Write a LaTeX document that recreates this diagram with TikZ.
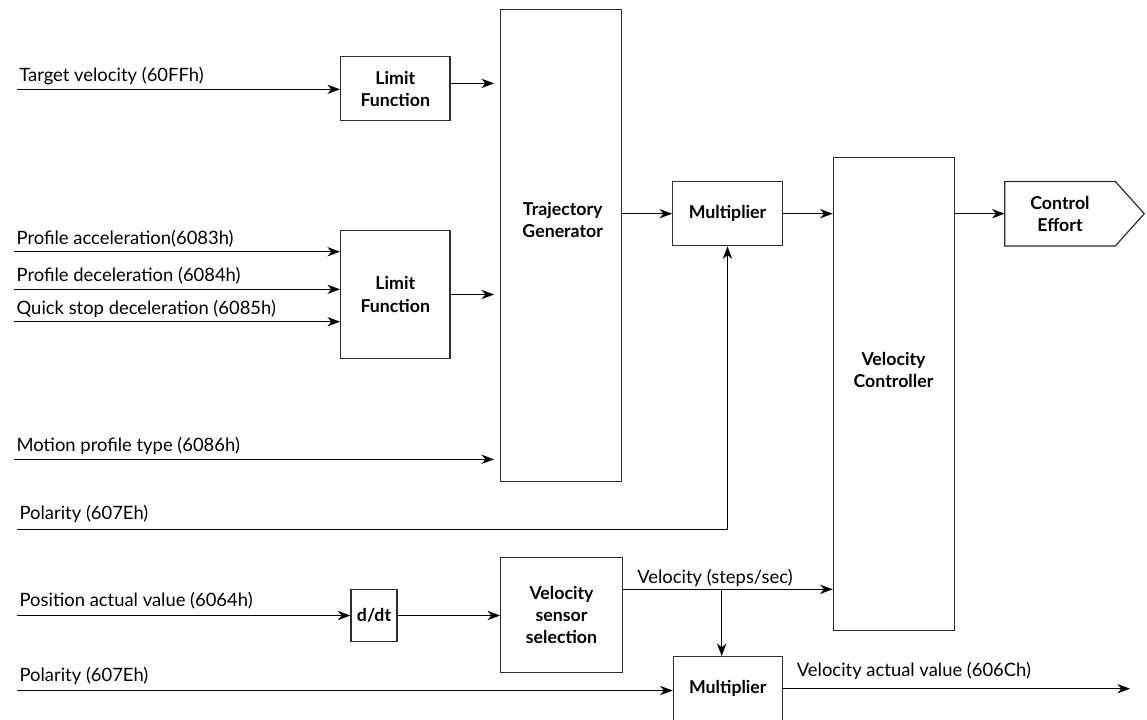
\documentclass[tikz,border=0pt]{standalone}
\usepackage{fontspec}
\setmainfont{Lato}
\usepackage{tikz}
\usetikzlibrary{arrows.meta, calc}
\definecolor{boxgray}{RGB}{45,45,45}
\newcommand{\blockfont}{\fontsize{13.3}{16.75}\selectfont\bfseries}
\newcommand{\sigfont}{\fontsize{13.8}{15}\selectfont}

\tikzset{
    block/.style={draw=boxgray, line width=0.9pt, align=center, font=\blockfont, inner sep=0pt},
    blocktext/.style={align=center, font=\blockfont, inner sep=0pt},
    sig/.style={-{Stealth[length=9.5pt, width=7pt, inset=3pt]}, line width=0.95pt},
    siglbl/.style={font=\sigfont, anchor=base west, inner sep=0pt, xshift=1.5pt, yshift=5.5pt},
}

\begin{document}
\begin{tikzpicture}[x=0.75pt, y=-0.75pt]
    \useasboundingbox (0,0) rectangle (1147,719);
    \clip (0,0) rectangle (1147,719);

    % Blocks
    \node[block, minimum width=82pt, minimum height=48pt] (limA) at (395.3,88.7) {Limit\\Function};
    \node[block, minimum width=82pt, minimum height=95.7pt] (limB) at (395.3,294.5) {Limit\\Function};
    \node[block, minimum width=90.75pt, minimum height=354.3pt] (trajGen) at (561.2,245.5) {};
    \node[blocktext] (trajText) at (562.7,220) {Trajectory\\Generator};
    \node[block, minimum width=82.2pt, minimum height=48pt] (multA) at (727.5,213.7) {Multiplier};
    \node[block, minimum width=90.75pt, minimum height=355pt] (velCtrl) at (893.8,394) {};
    \node[blocktext] (velText) at (893.5,370) {Velocity\\Controller};
    \node[blocktext, minimum width=82.5pt, minimum height=48pt] (effort) at (1060,213.7) {Control\\Effort};
    \draw[boxgray, line width=0.9pt] (effort.north west) -- (effort.north east)
        -- ([xshift=21.75pt]effort.east) -- (effort.south east) -- (effort.south west) -- cycle;
    \node[block, minimum width=34.5pt, minimum height=38.5pt] (ddt) at (374,615.5) {d/dt};
    \node[block, minimum width=91.2pt, minimum height=86.5pt] (sensor) at (561.5,615) {Velocity\\sensor\\selection};
    \node[block, minimum width=81.75pt, minimum height=48pt] (multB) at (727.8,688.7) {Multiplier};

    % Inputs
    \coordinate (inTarget) at (16.7,89.3);
    \coordinate (inAcc) at (14,251.7);
    \coordinate (inDec) at (14,289.3);
    \coordinate (inQuick) at (14,321.7);
    \coordinate (inMotion) at (14,459.3);
    \coordinate (inPolA) at (17,529.3);
    \coordinate (inPos) at (17,615.5);
    \coordinate (inPolB) at (17,690.5);
    \coordinate (velTap) at (721.7,589.3);
    \coordinate (outVel) at (1130,688.7);

    \draw[sig] (inTarget) -- (inTarget -| limA.west) node[siglbl, pos=0] (lblTarget) {Target velocity (60FFh)};
    \draw[sig] (inAcc) -- (inAcc -| limB.west) node[siglbl, pos=0] (lblAcc) {Profile acceleration(6083h)};
    \draw[sig] (inDec) -- (inDec -| limB.west) node[siglbl, pos=0] (lblDec) {Profile deceleration (6084h)};
    \draw[sig] (inQuick) -- (inQuick -| limB.west) node[siglbl, pos=0] (lblQuick) {Quick stop deceleration (6085h)};
    \draw[sig, shorten >=4.5pt] (inMotion) -- (inMotion -| trajGen.west) node[siglbl, pos=0] (lblMotion) {Motion profile type (6086h)};
    \draw[sig] (inPolA) -| (multA.south) node[siglbl, pos=0, yshift=1.5pt] (lblPolA) {Polarity (607Eh)};
    \draw[sig] (inPos) -- (inPos -| ddt.west) node[siglbl, pos=0, yshift=1.5pt] (lblPos) {Position actual value (6064h)};
    \draw[sig] (inPolB) -- (inPolB -| multB.west) node[siglbl, pos=0, yshift=1.5pt] (lblPolB) {Polarity (607Eh)};

    % Block links
    \draw[sig, shorten >=4.5pt] ([yshift=4pt]limA.east) -- ([yshift=4pt]limA.east -| trajGen.west);
    \draw[sig, shorten >=4.5pt] (limB.east) -- (limB.east -| trajGen.west);
    \draw[sig] (multA.west -| trajGen.east) -- (multA.west);
    \draw[sig] (multA.east) -- (multA.east -| velCtrl.west);
    \draw[sig] (effort.west -| velCtrl.east) -- (effort.west);
    \draw[sig] (ddt.east) -- (ddt.east -| sensor.west);
    \draw[sig] (velTap -| sensor.east) -- (velTap -| velCtrl.west) node[siglbl, pos=0, xshift=8.8pt, yshift=-1pt] (lblVel) {Velocity (steps/sec)};
    \draw[sig] (velTap) -- (velTap |- multB.north);
    \draw[sig] (multB.east) -- (outVel) node[siglbl, pos=0, xshift=8.5pt, yshift=3.5pt] (lblOut) {Velocity actual value (606Ch)};
\end{tikzpicture}
\end{document}
